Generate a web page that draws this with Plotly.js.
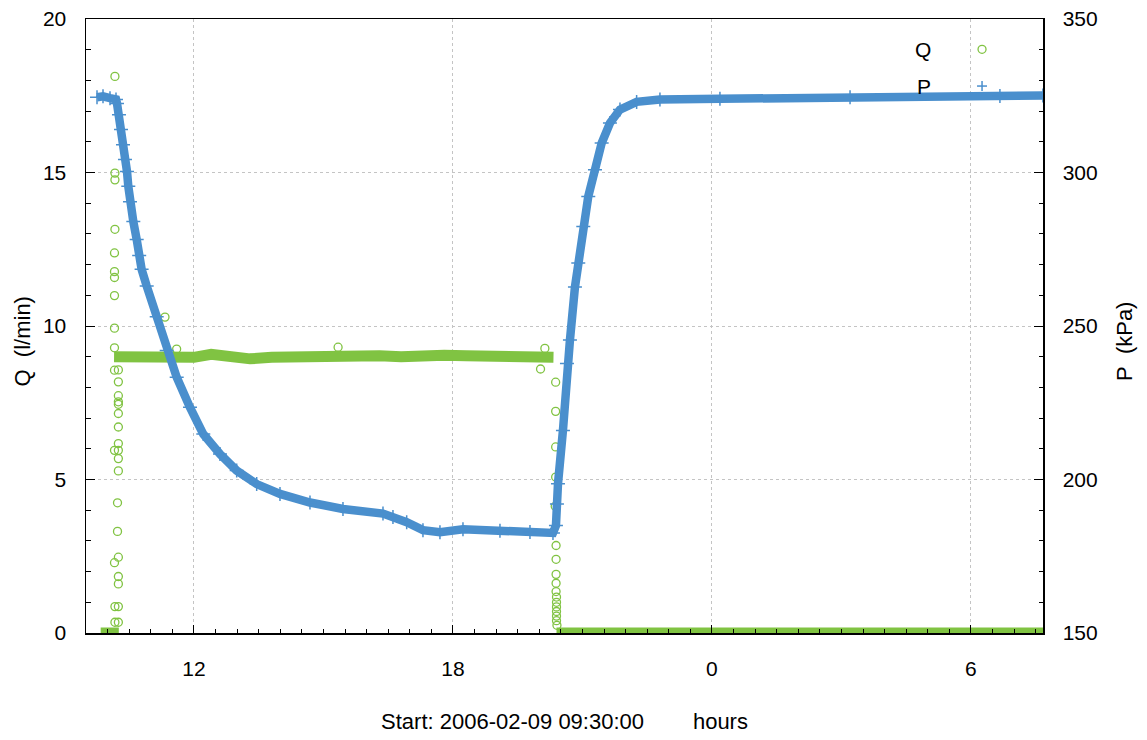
<!DOCTYPE html>
<html>
<head>
<meta charset="utf-8">
<script src="https://cdn.plot.ly/plotly-3.0.1.min.js"></script>
<style>
  html, body { margin: 0; padding: 0; background: #ffffff; }
  #chart { width: 1147px; height: 740px; }
</style>
</head>
<body>
<div id="chart"></div>
<script>
// ---- data (x = clock hours since 2006-02-09 00:00) ----
// P (kPa), right axis
const pHours = [9.755, 9.894, 10.056, 10.195, 10.218, 10.264, 10.311, 10.357, 10.403, 10.45,
  10.48, 10.519, 10.596, 10.674, 10.732, 10.788, 10.906, 11.138, 11.369, 11.601,
  11.909, 12.217, 12.604, 12.991, 13.454, 13.994, 14.689, 15.453, 16.38, 16.611,
  16.929, 17.306, 17.70, 18.233, 19.09, 19.785, 20.318, 20.387, 20.41, 20.434,
  20.549, 20.642, 20.711, 20.827, 20.904, 21.02, 21.136, 21.291, 21.446, 21.638,
  21.87, 22.256, 22.796, 24.186, 27.2, 30.672, 31.668];
const pValues = [324.5, 324.8, 324.2, 323.8, 322.5, 318.8, 314.0, 309.0, 304.2, 300.3,
  295.5, 290.5, 284.0, 278.2, 273.0, 268.5, 263.0, 253.0, 242.0, 233.3,
  223.5, 214.8, 208.3, 202.9, 198.5, 195.3, 192.5, 190.4, 188.9, 187.8,
  186.1, 183.5, 182.8, 183.8, 183.3, 182.9, 182.6, 185.0, 192.0, 198.6,
  216.0, 237.8, 245.4, 262.7, 270.5, 282.4, 292.2, 300.9, 309.6, 316.1,
  320.5, 323.0, 323.8, 324.0, 324.5, 324.9, 325.1];

// Q (l/min), left axis: dense plateau sections (null separates sections)
const qBandHours = [9.84, 10.05, 10.26, null,
  10.15, 10.5, 11.0, 11.5, 12.0, 12.4, 12.8, 13.3, 13.8, 14.3, 14.8, 15.3, 15.8,
  16.3, 16.8, 17.3, 17.8, 18.3, 18.8, 19.3, 19.8, 20.33, null,
  20.40, 22.0, 24.0, 26.0, 28.0, 30.0, 31.67];
const qBandValues = [0, 0, 0, null,
  9.0, 9.0, 8.98, 9.02, 8.98, 9.08, 9.0, 8.93, 8.98, 9.0, 8.97, 9.02, 9.0,
  9.03, 9.0, 9.04, 9.05, 9.03, 9.02, 9.03, 9.0, 8.98, null,
  0, 0, 0, 0, 0, 0, 0];

// Q (l/min): isolated samples (start-up, outliers, shut-down)
const qPointHours = [10.17, 10.17, 10.17, 10.17, 10.16, 10.16, 10.16, 10.16, 10.16, 10.16,
  10.16, 10.25, 10.25, 10.25, 10.25, 10.25, 10.25, 10.25, 10.25, 10.16,
  10.25, 10.25, 10.25, 10.23, 10.23, 10.25, 10.16, 10.25, 10.25, 10.17,
  10.25, 10.17, 10.25,
  11.33, 11.60, 15.34, 20.03, 20.13,
  20.38, 20.38, 20.38, 20.38, 20.37, 20.39, 20.39, 20.39, 20.39, 20.39,
  20.40, 20.40, 20.40, 20.40, 20.40, 20.40, 20.41];
const qPointValues = [18.13, 14.98, 14.76, 13.15, 12.38, 11.77, 11.58, 10.99, 9.93, 9.29,
  8.56, 8.57, 8.18, 7.73, 7.53, 7.45, 7.15, 6.71, 6.17, 5.95,
  5.95, 5.68, 5.28, 4.24, 3.31, 2.47, 2.29, 1.84, 1.60, 0.86,
  0.86, 0.35, 0.35,
  10.29, 9.25, 9.31, 8.60, 9.27,
  8.17, 7.22, 6.06, 5.08, 4.13, 2.85, 2.40, 1.91, 1.62, 1.35,
  1.17, 1.0, 0.85, 0.7, 0.55, 0.4, 0.25];

const xTickVals = [12, 18, 24, 30];
const xTickText = ['12', '18', '0', '6'];
const seriesNames = ['Q', 'P'];
const NB = '\u00a0';
const ZW = '\u200b';
const xTitle = 'Start: 2006-02-09 09:30:00' + NB.repeat(8) + 'hours';
const qTitle = 'Q' + NB + NB + '(l/min)' + NB.repeat(5) + ZW;
const pTitle = 'P' + NB + NB + '(kPa)' + NB.repeat(5) + ZW;

// ---- styling ----
const GREEN = '#80c342';
const BLUE = '#4a8fcd';
const FONT = 'Liberation Sans, Arial, Helvetica, sans-serif';

const traces = [
  {
    x: qBandHours, y: qBandValues, type: 'scatter', mode: 'lines',
    line: { color: GREEN, width: 11 }, connectgaps: false,
    name: seriesNames[0], legendgroup: 'Q', showlegend: false, hoverinfo: 'skip',
    xaxis: 'x', yaxis: 'y'
  },
  {
    x: qPointHours, y: qPointValues, type: 'scatter', mode: 'markers',
    marker: { symbol: 'circle-open', size: 8, color: GREEN, line: { width: 1.3, color: GREEN } },
    name: seriesNames[0], legendgroup: 'Q', showlegend: false, cliponaxis: false,
    xaxis: 'x', yaxis: 'y'
  },
  {
    x: pHours, y: pValues, type: 'scatter', mode: 'lines+markers',
    line: { color: BLUE, width: 8.5 },
    marker: { symbol: 'cross-thin-open', size: 10, color: BLUE, line: { width: 1.5, color: BLUE } },
    name: seriesNames[1], showlegend: false,
    xaxis: 'x', yaxis: 'y2'
  }
];

const axisCommon = {
  showline: true, linecolor: '#000', linewidth: 1.5,
  ticks: 'inside', tickcolor: '#000', tickwidth: 1,
  tickfont: { family: FONT, size: 21, color: '#000' },
  zeroline: false
};

// legend key positions (paper units)
const keyX = 0.9363;
const keyQy = 0.9506;
const keyPy = 0.8908;
const rX = 4 / 957, rY = 4 / 614;
const pX = 5 / 957, pY = 5 / 614;

const layout = {
  width: 1147, height: 740,
  margin: { l: 86, r: 104, t: 19, b: 107, pad: 0 },
  paper_bgcolor: '#fff', plot_bgcolor: '#fff',
  font: { family: FONT, size: 21, color: '#000' },
  showlegend: false,
  xaxis: Object.assign({}, axisCommon, {
    range: [9.5, 31.67],
    tickmode: 'array', tickvals: xTickVals, ticktext: xTickText,
    ticklen: 8, mirror: true,
    ticklabelstandoff: 16,
    showgrid: true, gridcolor: '#c4c4c4', griddash: 'dot', gridwidth: 1,
    minor: { tickmode: 'linear', tick0: 0, dtick: 0.5, ticklen: 4, ticks: 'inside', tickcolor: '#000', showgrid: false },
    title: { text: xTitle, font: { family: FONT, size: 22 }, standoff: 35 },
    automargin: false
  }),
  yaxis: Object.assign({}, axisCommon, {
    range: [0, 20], tickmode: 'linear', tick0: 0, dtick: 5,
    ticklen: 9, mirror: true,
    ticklabelstandoff: 14,
    showgrid: true, gridcolor: '#c4c4c4', griddash: 'dot', gridwidth: 1,
    minor: { tickmode: 'linear', tick0: 0, dtick: 1, ticklen: 4.5, ticks: 'inside', tickcolor: '#000', showgrid: false },
    title: { text: qTitle, font: { family: FONT, size: 22 }, standoff: 6 },
    automargin: false
  }),
  yaxis2: Object.assign({}, axisCommon, {
    overlaying: 'y', side: 'right',
    range: [150, 350], tickmode: 'linear', tick0: 150, dtick: 50,
    ticklen: 9,
    ticklabelstandoff: 14,
    showgrid: false,
    minor: { tickmode: 'linear', tick0: 150, dtick: 10, ticklen: 4.5, ticks: 'inside', tickcolor: '#000', showgrid: false },
    title: { text: pTitle, font: { family: FONT, size: 22 }, standoff: 20 },
    automargin: false
  }),
  annotations: [
    { xref: 'paper', yref: 'paper', x: 0.885, y: keyQy, xanchor: 'right', yanchor: 'middle',
      text: seriesNames[0], showarrow: false, font: { family: FONT, size: 21, color: '#000' } },
    { xref: 'paper', yref: 'paper', x: 0.885, y: keyPy, xanchor: 'right', yanchor: 'middle',
      text: seriesNames[1], showarrow: false, font: { family: FONT, size: 21, color: '#000' } }
  ],
  shapes: [
    { type: 'circle', xref: 'paper', yref: 'paper', x0: keyX - rX, x1: keyX + rX, y0: keyQy - rY, y1: keyQy + rY,
      line: { color: GREEN, width: 1.3 }, fillcolor: 'rgba(0,0,0,0)' },
    { type: 'line', xref: 'paper', yref: 'paper', x0: keyX - pX, x1: keyX + pX, y0: keyPy, y1: keyPy,
      line: { color: BLUE, width: 1.5 } },
    { type: 'line', xref: 'paper', yref: 'paper', x0: keyX, x1: keyX, y0: keyPy - pY, y1: keyPy + pY,
      line: { color: BLUE, width: 1.5 } }
  ]
};

Plotly.newPlot('chart', traces, layout, { staticPlot: true, displayModeBar: false });
</script>
</body>
</html>
